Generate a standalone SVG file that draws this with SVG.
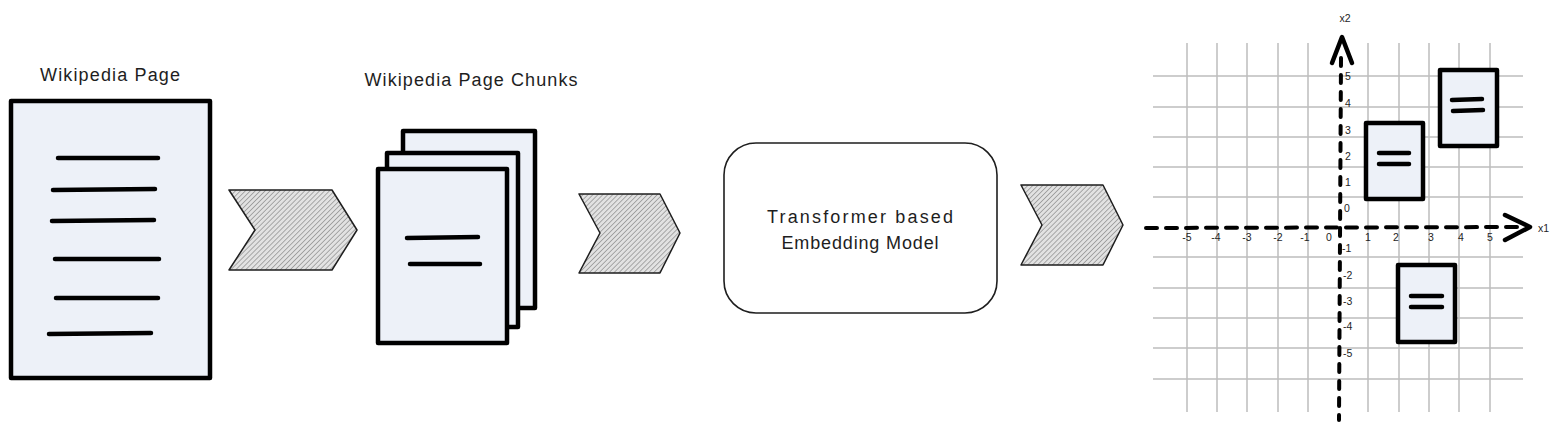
<svg xmlns="http://www.w3.org/2000/svg" width="1560" height="430" viewBox="0 0 1560 430">
<defs>
<pattern id="hatch" patternUnits="userSpaceOnUse" width="3.5" height="3.5" patternTransform="rotate(45)">
<rect width="3.5" height="3.5" fill="#e2e2e2"/>
<line x1="0" y1="0" x2="0" y2="3.5" stroke="#6a6a6a" stroke-width="1"/>
</pattern>
<style>
.t{font-family:"Liberation Sans",Arial,sans-serif;fill:#1e1e1e;}
.page{fill:#edf1f8;stroke:#000;stroke-width:4.5;stroke-linejoin:round;}
.ln{stroke:#000;stroke-width:4.5;stroke-linecap:round;fill:none;}
.chev{fill:url(#hatch);stroke:#1e1e1e;stroke-width:1.5;stroke-linejoin:round;}
.grid{stroke:#bdbdbd;stroke-width:1.5;fill:none;}
.axis{stroke:#000;stroke-width:4;stroke-linecap:round;fill:none;}
.ah{stroke:#000;stroke-width:4.5;stroke-linecap:round;stroke-linejoin:round;fill:none;}
.n{font-family:"Liberation Sans",Arial,sans-serif;font-size:10.5px;fill:#1e1e1e;}
</style>
</defs>
<rect width="1560" height="430" fill="#ffffff"/>

<g id="wiki-page">
<text class="t" x="110" y="81" font-size="18" text-anchor="middle" textLength="140">Wikipedia Page</text>
<rect class="page" x="11" y="101" width="199" height="277"/>
<line class="ln" x1="58" y1="158" x2="158" y2="158"/>
<line class="ln" x1="53" y1="190" x2="155" y2="189"/>
<line class="ln" x1="52" y1="221" x2="154" y2="220"/>
<line class="ln" x1="55" y1="259" x2="159" y2="259"/>
<line class="ln" x1="56" y1="298" x2="158" y2="298"/>
<line class="ln" x1="49" y1="334" x2="151" y2="333"/>
</g>

<g id="chunks">
<text class="t" x="471" y="86" font-size="18" text-anchor="middle" textLength="213">Wikipedia Page Chunks</text>
<rect class="page" x="403" y="131" width="132" height="177"/>
<rect class="page" x="387" y="153" width="131" height="174"/>
<rect class="page" x="378" y="169" width="129" height="174"/>
<line class="ln" x1="407" y1="238" x2="478" y2="237"/>
<line class="ln" x1="410" y1="264" x2="480" y2="264"/>
</g>

<g id="model">
<rect x="724" y="143" width="273" height="170" rx="32" ry="32" fill="#ffffff" stroke="#1e1e1e" stroke-width="1.6"/>
<text class="t" x="860" y="223" font-size="18" text-anchor="middle" textLength="186">Transformer based</text>
<text class="t" x="860" y="249" font-size="18" text-anchor="middle" textLength="157">Embedding Model</text>
</g>

<g id="embedding-space">
<g class="grid">
<line x1="1187" y1="43" x2="1187" y2="412"/>
<line x1="1217" y1="43" x2="1217" y2="412"/>
<line x1="1247" y1="43" x2="1247" y2="412"/>
<line x1="1278" y1="43" x2="1278" y2="412"/>
<line x1="1308" y1="43" x2="1308" y2="412"/>
<line x1="1368" y1="43" x2="1368" y2="412"/>
<line x1="1399" y1="43" x2="1399" y2="412"/>
<line x1="1429" y1="43" x2="1429" y2="412"/>
<line x1="1459" y1="43" x2="1459" y2="412"/>
<line x1="1490" y1="43" x2="1490" y2="412"/>
<line x1="1153" y1="76" x2="1523" y2="76"/>
<line x1="1153" y1="107" x2="1523" y2="107"/>
<line x1="1153" y1="137" x2="1523" y2="137"/>
<line x1="1153" y1="167" x2="1523" y2="167"/>
<line x1="1153" y1="197" x2="1523" y2="197"/>
<line x1="1153" y1="257" x2="1523" y2="257"/>
<line x1="1153" y1="288" x2="1523" y2="288"/>
<line x1="1153" y1="318" x2="1523" y2="318"/>
<line x1="1153" y1="348" x2="1523" y2="348"/>
<line x1="1153" y1="379" x2="1523" y2="379"/>
</g>
<line class="axis" x1="1341" y1="58" x2="1339" y2="420" stroke-dasharray="8 9"/>
<polyline class="ah" points="1332,63 1342,37 1352,63"/>
<line class="axis" x1="1146" y1="228" x2="1522" y2="227" stroke-dasharray="11 9"/>
<polyline class="ah" points="1505,215 1530,227 1505,240"/>
<text class="n" x="1345" y="22" text-anchor="middle">x2</text>
<text class="n" x="1538" y="232">x1</text>
<text class="n" x="1187" y="241" text-anchor="middle">-5</text>
<text class="n" x="1216" y="241" text-anchor="middle">-4</text>
<text class="n" x="1247" y="241" text-anchor="middle">-3</text>
<text class="n" x="1278" y="241" text-anchor="middle">-2</text>
<text class="n" x="1305" y="241" text-anchor="middle">-1</text>
<text class="n" x="1329" y="241" text-anchor="middle">0</text>
<text class="n" x="1368" y="241" text-anchor="middle">1</text>
<text class="n" x="1396" y="241" text-anchor="middle">2</text>
<text class="n" x="1431" y="241" text-anchor="middle">3</text>
<text class="n" x="1461" y="241" text-anchor="middle">4</text>
<text class="n" x="1490" y="241" text-anchor="middle">5</text>
<text class="n" x="1345" y="80">5</text>
<text class="n" x="1345" y="107">4</text>
<text class="n" x="1345" y="134">3</text>
<text class="n" x="1345" y="160">2</text>
<text class="n" x="1345" y="186">1</text>
<text class="n" x="1344" y="212">0</text>
<text class="n" x="1342" y="252">-1</text>
<text class="n" x="1343" y="279">-2</text>
<text class="n" x="1343" y="305">-3</text>
<text class="n" x="1343" y="330">-4</text>
<text class="n" x="1343" y="357">-5</text>
</g>

<g id="point-a">
<rect class="page" x="1366" y="123" width="57" height="76"/>
<line class="ln" x1="1379" y1="153" x2="1409" y2="153"/>
<line class="ln" x1="1379" y1="164" x2="1409" y2="164"/>
</g>
<g id="point-b">
<rect class="page" x="1440" y="70" width="57" height="76"/>
<line class="ln" x1="1452" y1="100" x2="1482" y2="99"/>
<line class="ln" x1="1453" y1="111" x2="1483" y2="110"/>
</g>
<g id="point-c">
<rect class="page" x="1398" y="265" width="57" height="77"/>
<line class="ln" x1="1411" y1="296" x2="1442" y2="296"/>
<line class="ln" x1="1411" y1="307" x2="1442" y2="307"/>
</g>

<g id="connectors">
<polygon class="chev" points="229,190 332,190 357,230 332,270 229,270 255,230"/>
<polygon class="chev" points="579,194 660,194 680,233 660,273 579,273 600,233"/>
<polygon class="chev" points="1021,185 1103,185 1123,225 1103,265 1021,265 1042,225"/>
</g>
</svg>
